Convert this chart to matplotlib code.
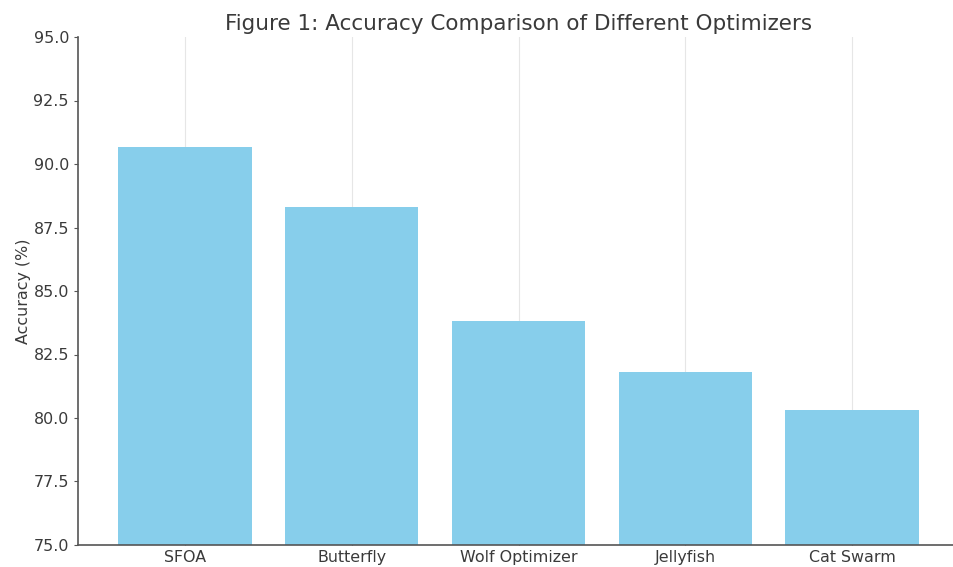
import matplotlib
matplotlib.use("Agg")
import matplotlib.pyplot as plt

# values
optimizers = ["SFOA", "Butterfly", "Wolf Optimizer", "Jellyfish", "Cat Swarm"]
accuracy = [90.65, 88.3, 83.8, 81.8, 80.3]

fig = plt.figure(figsize=(9.54, 5.67), dpi=100)
ax = fig.add_axes([78 / 954, 22 / 567, 881 / 954, 508 / 567])

ax.bar(optimizers, accuracy, color="skyblue", width=0.8, zorder=2)
ax.set_ylim(75, 95)
ax.set_xlim(-0.64, 4.64)

ax.set_title("Figure 1: Accuracy Comparison of Different Optimizers",
             fontsize=15.5, color="#3a3a3a", pad=5)
ax.set_ylabel("Accuracy (%)", fontsize=11.4, color="#3a3a3a", labelpad=2)

ax.grid(axis="x", color="#e6e6e6", linewidth=0.8, zorder=0)
ax.grid(axis="y", visible=False)
ax.spines["top"].set_visible(False)
ax.spines["right"].set_visible(False)
for s in ["left", "bottom"]:
    ax.spines[s].set_color("#555555")
    ax.spines[s].set_linewidth(1.2)

ax.tick_params(axis="y", direction="out", length=3, colors="#555555", labelcolor="#3a3a3a", labelsize=11.4)
ax.tick_params(axis="x", direction="in", length=3, colors="#555555", labelcolor="#3a3a3a", labelsize=11.4)

fig.savefig("out.png", dpi=100)
